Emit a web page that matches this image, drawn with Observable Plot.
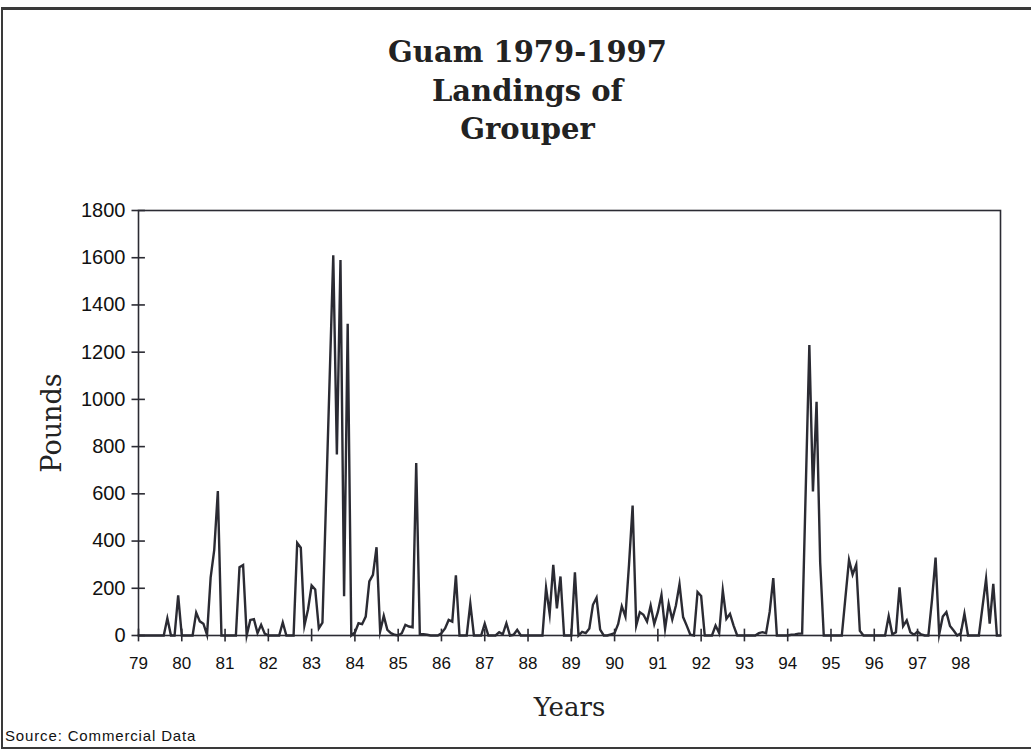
<!DOCTYPE html>
<html><head><meta charset="utf-8">
<script src="https://cdn.jsdelivr.net/npm/d3@7"></script>
<script src="https://cdn.jsdelivr.net/npm/@observablehq/plot@0.6"></script>
<style>
html,body{margin:0;padding:0;background:#fff;}
#page{position:relative;width:1031px;height:753px;overflow:hidden;}
#border{position:absolute;left:1px;top:7px;width:1040px;height:742px;border-top:3px solid #3a3a3a;border-left:2px solid #3a3a3a;border-bottom:2px solid #3a3a3a;box-sizing:border-box;}
#title{position:absolute;left:0;top:33px;width:1055px;text-align:center;font-family:"DejaVu Serif",serif;font-weight:bold;font-size:29px;line-height:38.5px;color:#222;}
#source{position:absolute;left:5px;top:727px;font-family:"Liberation Sans",Arial,sans-serif;font-size:15px;letter-spacing:0.85px;color:#111;}
#chart{position:absolute;left:0;top:0;}
</style></head><body>
<div id="page">
<div id="chart"></div>
<div id="border"></div>
<div id="title">Guam 1979-1997<br>Landings of<br>Grouper</div>
<div id="source">Source: Commercial Data</div>
</div>
<script>
// Monthly landings (pounds), January..December
const y79 = [0,0,0,0,0,0,0,0,73,0,0,170];
const y80 = [0,0,0,0,97,60,50,3,245,363,612,0];
const y81 = [0,0,0,0,289,298,0,66,69,10,45,8];
const y82 = [0,0,0,0,55,0,0,0,392,372,42,110];
const y83 = [212,195,30,54,570,1090,1610,767,1590,166,1320,0];
const y84 = [13,52,48,80,229,257,374,17,83,24,10,3];
const y85 = [0,10,45,38,35,730,6,5,3,0,0,0];
const y86 = [10,30,66,59,255,0,0,0,135,0,0,0];
const y87 = [50,0,0,0,14,5,52,0,3,24,0,0];
const y88 = [0,0,0,0,0,202,92,299,115,250,0,0];
const y89 = [0,268,0,15,10,30,130,160,25,0,0,5];
const y90 = [10,49,124,80,300,550,42,99,88,59,127,49];
const y91 = [100,172,28,134,68,127,217,78,42,3,0,184];
const y92 = [167,0,0,0,42,10,191,71,92,42,0,0];
const y93 = [0,0,0,0,10,14,10,100,243,0,0,0];
const y94 = [0,3,5,8,8,620,1230,610,990,310,0,0];
const y95 = [0,0,0,0,160,320,258,300,20,0,0,0];
const y96 = [0,0,0,0,82,5,14,204,40,64,14,3];
const y97 = [17,5,0,0,150,330,5,80,99,40,21,0];
const y98 = [10,92,0,0,0,0,120,240,50,219,0,0];

const yearLabels = [79,80,81,82,83,84,85,86,87,88,89,90,91,92,93,94,95,96,97,98];
const yTicks = [0,200,400,600,800,1000,1200,1400,1600,1800];

const series = [y79,y80,y81,y82,y83,y84,y85,y86,y87,y88,y89,y90,y91,y92,y93,y94,y95,y96,y97,y98];
const data = [];
series.forEach((vals, i) => vals.forEach((v, m) => data.push({t: yearLabels[i] + m / 12, v})));

const ink = "#2b2b33";
const chart = Plot.plot({
  width: 1031,
  height: 753,
  marginLeft: 138,
  marginRight: 31,
  marginTop: 210,
  marginBottom: 118,
  style: {background: "transparent", fontFamily: "'Liberation Sans', Arial, sans-serif"},
  x: {domain: [79, 98 + 11 / 12], axis: null},
  y: {domain: [0, 1800], axis: null},
  marks: [
    Plot.frame({stroke: ink, strokeWidth: 1.6}),
    Plot.ruleX(yearLabels, {x: d => d, y1: -27, y2: 27, stroke: ink, strokeWidth: 1.6}),
    Plot.ruleY(yTicks, {y: d => d, x1: 78.85, x2: 79.16, stroke: ink, strokeWidth: 1.6}),
    Plot.text(yearLabels, {x: d => d, frameAnchor: "bottom", dy: 33, text: d => String(d), fontSize: 17, fill: "#111"}),
    Plot.text(yTicks, {y: d => d, frameAnchor: "left", dx: -13, textAnchor: "end", text: d => String(d), fontSize: 20, fill: "#111"}),
    Plot.line(data, {x: "t", y: "v", stroke: ink, strokeWidth: 2.4, strokeLinejoin: "miter", strokeMiterlimit: 10}),
    Plot.text(["Years"], {frameAnchor: "bottom", dy: 80, fontFamily: "'DejaVu Serif', serif", fontSize: 26, fill: "#222"}),
    Plot.text(["Pounds"], {frameAnchor: "left", dx: -86, rotate: -90, textAnchor: "middle", fontFamily: "'DejaVu Serif', serif", fontSize: 27, fill: "#222"})
  ]
});
document.getElementById("chart").appendChild(chart);
</script>
</body></html>
